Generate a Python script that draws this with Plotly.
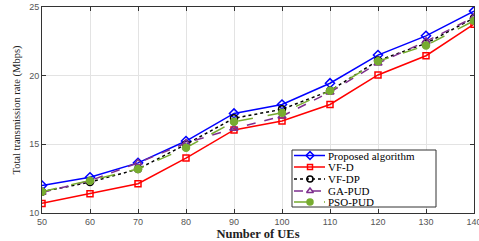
import plotly.graph_objects as go

ues = [50, 60, 70, 80, 90, 100, 110, 120, 130, 140]
proposed = [12.0, 12.6, 13.65, 15.24, 17.25, 17.9, 19.45, 21.5, 22.9, 24.7]
vf_d = [10.7, 11.4, 12.13, 14.0, 16.05, 16.7, 17.9, 20.05, 21.45, 23.75]
vf_dp = [11.55, 12.25, 13.2, 15.0, 16.9, 17.55, 18.9, 21.1, 22.35, 24.2]
ga_pud = [11.5, 12.35, 13.65, 15.1, 16.15, 17.05, 18.8, 20.9, 22.5, 24.25]
pso_pud = [11.55, 12.35, 13.2, 14.75, 16.65, 17.3, 18.9, 21.05, 22.2, 24.0]
names = ["Proposed algorithm", "VF-D", "VF-DP", "GA-PUD", "PSO-PUD"]
y_ticks = [10, 15, 20, 25]

W, H = 479, 241
L, R, T, B = 42, 5, 7, 28
px_x0, px_x1 = L, W - R
px_y0, px_y1 = T, H - B

fig = go.Figure()
styles = [
    ("#0000ff", "solid", "diamond-open", 7),
    ("#ff0000", "solid", "square-open", 6),
    ("#000000", "dot", "circle-open", 7),
    ("#7e2f8e", "dash", "triangle-up-open", 7),
    ("#77ac30", "longdash", "circle", 7),
]
data = [proposed, vf_d, vf_dp, ga_pud, pso_pud]
for name, ys, (col, dash, sym, sz) in zip(names, data, styles):
    fig.add_trace(go.Scatter(
        x=ues, y=ys, name=name, mode="lines+markers", showlegend=False,
        line=dict(color=col, width=1.5, dash=dash),
        marker=dict(symbol=sym, size=sz, color=col, line=dict(color=col, width=1.5)),
    ))

# custom compact legend, drawn in page-pixel overlay coordinates
bx0, bx1, by0, by1 = 292, 436, 150, 207
fig.add_trace(go.Scatter(
    x=[bx0, bx1, bx1, bx0, bx0], y=[by0, by0, by1, by1, by0],
    xaxis="x2", yaxis="y2", mode="lines", fill="toself", fillcolor="white",
    line=dict(color="#333333", width=1), showlegend=False, hoverinfo="skip",
))
row_y = [155.5, 167, 179, 191, 202]
for name, (col, dash, sym, sz), ry in zip(names, styles, row_y):
    fig.add_trace(go.Scatter(
        x=[294, 310, 325], y=[ry, ry, ry], xaxis="x2", yaxis="y2",
        mode="lines", line=dict(color=col, width=1.5, dash=dash),
        showlegend=False, hoverinfo="skip",
    ))
    fig.add_trace(go.Scatter(
        x=[310], y=[ry], xaxis="x2", yaxis="y2", mode="markers",
        marker=dict(symbol=sym, size=sz - 1, color=col, line=dict(color=col, width=1.5)),
        showlegend=False, hoverinfo="skip",
    ))
    fig.add_annotation(
        x=326, y=ry, xref="x2", yref="y2", text=name, showarrow=False,
        xanchor="left", yanchor="middle",
        font=dict(family="Liberation Serif", size=11, color="black"),
    )

fig.update_layout(
    width=W, height=H,
    margin=dict(l=L, r=R, t=T, b=B, pad=0),
    plot_bgcolor="white", paper_bgcolor="white",
    showlegend=False,
    font=dict(family="Liberation Sans", size=9, color="#555555"),
    xaxis2=dict(overlaying="x", range=[px_x0, px_x1], visible=False, fixedrange=True),
    yaxis2=dict(overlaying="y", range=[px_y1, px_y0], visible=False, fixedrange=True),
)
fig.layout.xaxis.update(
    range=[50, 140], tickvals=ues, showgrid=True, gridcolor="#e3e3e3",
    showline=True, linecolor="#333333", mirror="ticks", ticks="inside", ticklen=4,
    tickcolor="#333333", zeroline=False, automargin=False, ticklabeloverflow="allow",
    title=dict(text="<b>Number of UEs</b>", standoff=0,
               font=dict(family="Liberation Serif", size=12.5, color="#222222")),
)
fig.layout.yaxis.update(
    range=[10, 25], tickvals=y_ticks, showgrid=True, gridcolor="#e3e3e3",
    showline=True, linecolor="#333333", mirror="ticks", ticks="inside", ticklen=4,
    tickcolor="#333333", zeroline=False, automargin=False, ticklabeloverflow="allow",
    title=dict(text="Total transmission rate (Mbps)", standoff=6,
               font=dict(family="Liberation Serif", size=10.5, color="#222222")),
)
fig.write_html("out.html",
               config={"displayModeBar": False},
               post_script="document.body.style.margin='0';document.body.style.padding='0';")
